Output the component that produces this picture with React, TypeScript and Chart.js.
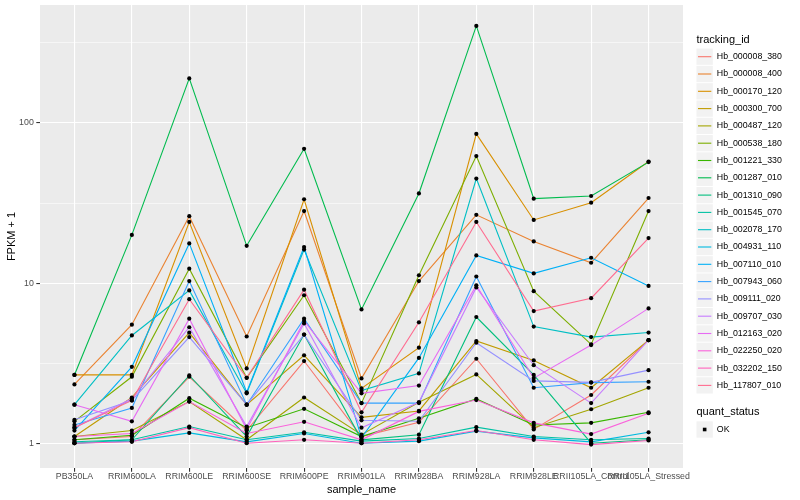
import React, { useEffect, useRef } from "react";
import { Chart, registerables } from "chart.js";

Chart.register(...registerables);

const FONT = '"Liberation Sans", Arial, Helvetica, sans-serif';

const categories = [
  "PB350LA", "RRIM600LA", "RRIM600LE", "RRIM600SE", "RRIM600PE", "RRIM901LA",
  "RRIM928BA", "RRIM928LA", "RRIM928LE", "RRII105LA_Control", "RRII105LA_Stressed",
];

const trackingIds = [
  "Hb_000008_380", "Hb_000008_400", "Hb_000170_120", "Hb_000300_700", "Hb_000487_120",
  "Hb_000538_180", "Hb_001221_330", "Hb_001287_010", "Hb_001310_090", "Hb_001545_070",
  "Hb_002078_170", "Hb_004931_110", "Hb_007110_010", "Hb_007943_060", "Hb_009111_020",
  "Hb_009707_030", "Hb_012163_020", "Hb_022250_020", "Hb_032202_150", "Hb_117807_010",
];

const seriesColors = [
  "#F8766D", "#EA8331", "#D89000", "#C09B00", "#A3A500", "#7CAE00", "#39B600",
  "#00BB4E", "#00BF7D", "#00C1A3", "#00BFC4", "#00BAE0", "#00B0F6", "#35A2FF",
  "#9590FF", "#C77CFF", "#E76BF3", "#FA62DB", "#FF62BC", "#FF6C90",
];

// FPKM + 1 per sample (same order as categories)
const hb000008_380 = [1.05, 1.1, 2.6, 1.2, 3.26, 1.1, 1.35, 3.37, 1.22, 2.0, 4.4];
const hb000008_400 = [2.33, 5.5, 26.2, 4.64, 28.2, 2.54, 10.3, 26.7, 18.2, 13.4, 34];
const hb000170_120 = [2.67, 2.67, 24.1, 2.93, 33.4, 2.2, 3.95, 85.5, 24.8, 31.8, 57.5];
const hb000300_700 = [1.1, 1.93, 4.9, 1.74, 3.54, 1.45, 1.59, 4.35, 3.29, 2.22, 4.4];
const hb000487_120 = [1.1, 1.2, 1.82, 1.05, 1.93, 1.13, 1.8, 2.69, 1.25, 1.63, 2.22];
const hb000538_180 = [1.37, 2.6, 12.3, 2.56, 8.4, 1.78, 11.2, 62.2, 8.9, 4.14, 28.2];
const hb001221_330 = [1.05, 1.12, 1.91, 1.25, 1.64, 1.1, 1.43, 1.89, 1.3, 1.34, 1.56];
const hb001287_010 = [2.67, 20, 190, 17.1, 69, 6.85, 36.3, 404, 33.7, 35, 57];
const hb001310_090 = [1.0, 1.05, 2.65, 1.1, 4.77, 1.05, 1.13, 6.14, 2.67, 1.0, 1.05];
const hb001545_070 = [1.02, 1.05, 1.27, 1.05, 1.17, 1.03, 1.07, 1.26, 1.1, 1.05, 1.07];
const hb002078_170 = [1.74, 4.71, 9.0, 2.05, 16.2, 2.13, 2.73, 45, 5.35, 4.6, 4.91];
const hb004931_110 = [1.0, 1.03, 1.16, 1.02, 1.15, 1.0, 1.03, 1.19, 1.08, 1.02, 1.17];
const hb007110_010 = [1.2, 3.0, 17.7, 2.08, 16.8, 1.08, 3.41, 14.9, 11.5, 14.4, 9.6];
const hb007943_060 = [1.3, 1.66, 10.3, 1.74, 6.0, 1.78, 1.78, 11.0, 2.22, 2.39, 2.42];
const hb009111_020 = [1.4, 1.85, 4.6, 1.74, 4.77, 1.39, 1.37, 4.24, 2.45, 2.4, 2.86];
const hb009707_030 = [1.25, 1.9, 5.3, 1.27, 5.6, 1.25, 1.8, 9.4, 3.07, 1.78, 4.4];
const hb012163_020 = [1.74, 1.37, 6.0, 1.22, 5.8, 2.05, 2.29, 9.7, 2.55, 4.1, 6.95];
const hb022250_020 = [1.1, 1.15, 1.82, 1.15, 1.36, 1.05, 1.58, 1.86, 1.34, 1.14, 1.54];
const hb032202_150 = [1.0, 1.02, 1.25, 1.0, 1.05, 1.0, 1.05, 1.2, 1.05, 0.98, 1.04];
const hb117807_010 = [1.25, 1.85, 7.94, 2.56, 9.1, 1.56, 5.69, 24.1, 6.69, 8.05, 19.1];

const seriesValues = [
  hb000008_380, hb000008_400, hb000170_120, hb000300_700, hb000487_120,
  hb000538_180, hb001221_330, hb001287_010, hb001310_090, hb001545_070,
  hb002078_170, hb004931_110, hb007110_010, hb007943_060, hb009111_020,
  hb009707_030, hb012163_020, hb022250_020, hb032202_150, hb117807_010,
];

const yMajorTicks = [1, 10, 100];
const yMinorTicks = [3.1623, 31.623, 316.23];
const quantStatus = ["OK"];

const isMajor = (v: number) => yMajorTicks.some((m) => Math.abs(m - v) < 1e-6);

const bgAndLegend = {
  id: "ggBgLegend",
  beforeDraw(chart: any) {
    const { ctx, chartArea } = chart;
    ctx.save();
    ctx.fillStyle = "#FFFFFF";
    ctx.fillRect(0, 0, chart.width, chart.height);
    ctx.fillStyle = "#EBEBEB";
    ctx.fillRect(chartArea.left, chartArea.top, chartArea.right - chartArea.left, chartArea.bottom - chartArea.top);
    ctx.restore();
  },
  afterDraw(chart: any) {
    const { ctx } = chart;
    const x0 = 696.5;
    const keyW = 16.3;
    const rowH = 17.3;
    ctx.save();
    ctx.textAlign = "left";
    ctx.textBaseline = "middle";
    ctx.fillStyle = "#000000";
    ctx.font = `11px ${FONT}`;
    ctx.fillText("tracking_id", x0, 40);
    const lineSets = chart.data.datasets.filter((d: any) => d.isSeries);
    lineSets.forEach((ds: any, i: number) => {
      const cy = 56.7 + i * rowH;
      ctx.fillStyle = "#F2F2F2";
      ctx.fillRect(x0, cy - rowH / 2 + 0.5, keyW, rowH - 1);
      ctx.strokeStyle = ds.borderColor;
      ctx.lineWidth = 1.1;
      ctx.beginPath();
      ctx.moveTo(x0 + 1.5, cy);
      ctx.lineTo(x0 + keyW - 1.5, cy);
      ctx.stroke();
      ctx.fillStyle = "#000000";
      ctx.font = `8.8px ${FONT}`;
      ctx.fillText(ds.label, x0 + keyW + 4, cy);
    });
    const qTop = 56.7 + lineSets.length * rowH + 9.5;
    ctx.font = `11px ${FONT}`;
    ctx.fillStyle = "#000000";
    ctx.fillText("quant_status", x0, qTop);
    quantStatus.forEach((q, i) => {
      const cy = qTop + 17.3 + i * rowH;
      ctx.fillStyle = "#F2F2F2";
      ctx.fillRect(x0, cy - rowH / 2 + 0.5, keyW, rowH - 1);
      ctx.fillStyle = "#000000";
      ctx.fillRect(x0 + keyW / 2 - 1.8, cy - 1.8, 3.6, 3.6);
      ctx.font = `8.8px ${FONT}`;
      ctx.fillText(q, x0 + keyW + 4, cy);
    });
    ctx.restore();
  },
};

export default function App() {
  const canvasRef = useRef<HTMLCanvasElement | null>(null);

  useEffect(() => {
    if (!canvasRef.current) return;
    const n = trackingIds.length;
    const lineDatasets = trackingIds.map((id, i) => ({
      label: id,
      isSeries: true,
      data: seriesValues[i].map((v, j) => ({ x: j, y: v })),
      borderColor: seriesColors[i],
      backgroundColor: seriesColors[i],
      borderWidth: 1.1,
      pointRadius: 0,
      tension: 0,
      fill: false,
      order: n - i,
    }));
    const pointData: { x: number; y: number }[] = [];
    seriesValues.forEach((vals) => vals.forEach((v, j) => pointData.push({ x: j, y: v })));
    const pointsDataset = {
      label: quantStatus[0],
      isSeries: false,
      data: pointData,
      showLine: false,
      borderColor: "#000000",
      backgroundColor: "#000000",
      pointRadius: 2.1,
      pointBorderWidth: 0,
      pointStyle: "circle",
      order: 0,
    };

    const chart = new Chart(canvasRef.current, {
      type: "line",
      data: { datasets: [...lineDatasets, pointsDataset] as any },
      options: {
        responsive: false,
        animation: false,
        devicePixelRatio: 1,
        layout: { padding: { left: 0, top: 5, right: 117, bottom: 0 } },
        plugins: { legend: { display: false }, tooltip: { enabled: false } },
        scales: {
          x: {
            type: "linear",
            min: -0.6,
            max: categories.length - 1 + 0.6,
            afterBuildTicks: (s: any) => {
              s.ticks = categories.map((_, i) => ({ value: i }));
            },
            afterFit: (s: any) => {
              s.height = 32;
              s.paddingLeft = 0;
              s.paddingRight = 0;
            },
            ticks: {
              callback: (v: any) => categories[v as number] ?? "",
              autoSkip: false,
              maxRotation: 0,
              minRotation: 0,
              padding: 0,
              color: "#4D4D4D",
              font: { family: FONT, size: 8.8 },
            },
            grid: {
              color: "#FFFFFF",
              lineWidth: 1.1,
              tickLength: 3.7,
              tickColor: "#333333",
              tickWidth: 1.1,
            },
            border: { display: false },
            title: {
              display: true,
              text: "sample_name",
              color: "#000000",
              font: { family: FONT, size: 11 },
              padding: { top: 0, bottom: 3.4 },
            },
          },
          y: {
            type: "logarithmic",
            min: 0.741,
            max: 546,
            afterBuildTicks: (s: any) => {
              s.ticks = [...yMajorTicks, ...yMinorTicks]
                .sort((a, b) => a - b)
                .map((v) => ({ value: v, major: isMajor(v) }));
            },
            afterFit: (s: any) => {
              s.width = 40;
              s.paddingTop = 0;
              s.paddingBottom = 0;
            },
            ticks: {
              callback: (v: any) => (isMajor(v as number) ? String(v) : ""),
              autoSkip: false,
              padding: 2.5,
              color: "#4D4D4D",
              font: { family: FONT, size: 8.8 },
            },
            grid: {
              color: "#FFFFFF",
              lineWidth: (c: any) => (c.tick && isMajor(c.tick.value) ? 1.1 : 0.55),
              tickLength: 3.7,
              tickColor: (c: any) => (c.tick && isMajor(c.tick.value) ? "#333333" : "rgba(0,0,0,0)"),
              tickWidth: 1.1,
            },
            border: { display: false },
            title: {
              display: true,
              text: "FPKM + 1",
              color: "#000000",
              font: { family: FONT, size: 11 },
              padding: { top: 5, bottom: 0 },
            },
          },
        },
      } as any,
      plugins: [bgAndLegend],
    });
    return () => chart.destroy();
  }, []);

  return (
    <div style={{ position: "absolute", left: 0, top: 0, width: 800, height: 500 }}>
      <canvas ref={canvasRef} width={800} height={500} />
    </div>
  );
}
